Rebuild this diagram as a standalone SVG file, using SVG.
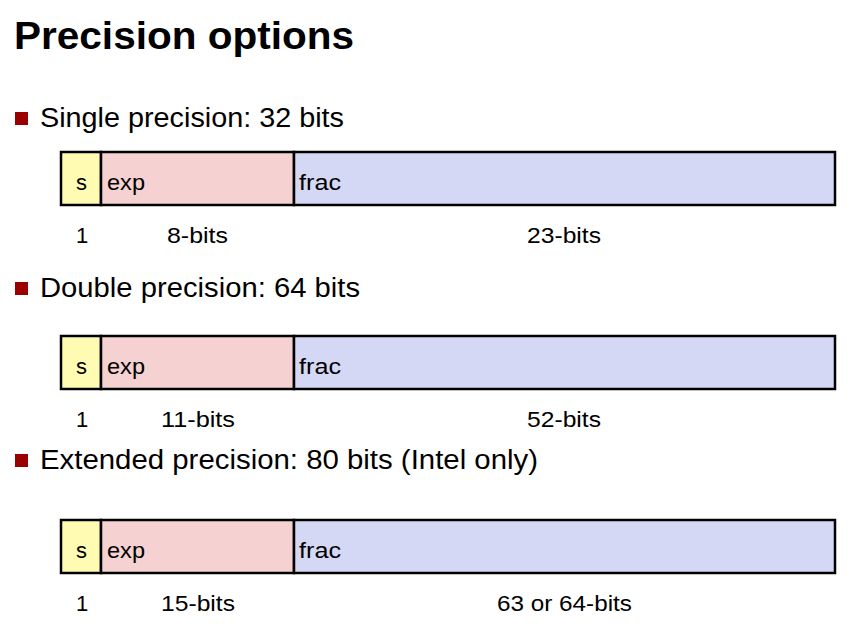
<svg xmlns="http://www.w3.org/2000/svg" width="866" height="629" viewBox="0 0 866 629">
  <style>
    text { font-family: "Liberation Sans", "Noto Sans", sans-serif; fill: #000; }
    .title { font-size: 38px; font-weight: bold; }
    .bullet-text { font-size: 27px; }
    .field { font-size: 22px; }
    .width { font-size: 22px; }
    .bullet { fill: #9b0000; }
    .cell { stroke: #000; stroke-width: 2.5; }
    .s { fill: #fffbb3; }
    .exp { fill: #f5d1d1; }
    .frac { fill: #d5d8f5; }
  </style>

  <rect width="866" height="629" fill="#ffffff"/>

  <text class="title" x="14" y="49" textLength="340" lengthAdjust="spacingAndGlyphs">Precision options</text>

  <!-- Single precision -->
  <g id="single">
    <rect class="bullet" x="15" y="112" width="13" height="13"/>
    <text class="bullet-text" x="40" y="127" textLength="304" lengthAdjust="spacingAndGlyphs">Single precision: 32 bits</text>
    <rect class="cell s" x="61" y="152" width="40" height="53"/>
    <rect class="cell exp" x="101" y="152" width="193" height="53"/>
    <rect class="cell frac" x="294" y="152" width="541" height="53"/>
    <text class="field" x="76" y="190">s</text>
    <text class="field" x="107" y="190" textLength="38" lengthAdjust="spacingAndGlyphs">exp</text>
    <text class="field" x="299" y="190" textLength="42" lengthAdjust="spacingAndGlyphs">frac</text>
    <text class="width" x="76" y="243">1</text>
    <text class="width" x="167" y="243" textLength="61" lengthAdjust="spacingAndGlyphs">8-bits</text>
    <text class="width" x="527" y="243" textLength="74" lengthAdjust="spacingAndGlyphs">23-bits</text>
  </g>

  <!-- Double precision -->
  <g id="double">
    <rect class="bullet" x="15" y="282" width="13" height="13"/>
    <text class="bullet-text" x="40" y="297" textLength="320" lengthAdjust="spacingAndGlyphs">Double precision: 64 bits</text>
    <rect class="cell s" x="61" y="336" width="40" height="53"/>
    <rect class="cell exp" x="101" y="336" width="193" height="53"/>
    <rect class="cell frac" x="294" y="336" width="541" height="53"/>
    <text class="field" x="76" y="374">s</text>
    <text class="field" x="107" y="374" textLength="38" lengthAdjust="spacingAndGlyphs">exp</text>
    <text class="field" x="299" y="374" textLength="42" lengthAdjust="spacingAndGlyphs">frac</text>
    <text class="width" x="76" y="427">1</text>
    <text class="width" x="161" y="427" textLength="74" lengthAdjust="spacingAndGlyphs">11-bits</text>
    <text class="width" x="527" y="427" textLength="74" lengthAdjust="spacingAndGlyphs">52-bits</text>
  </g>

  <!-- Extended precision -->
  <g id="extended">
    <rect class="bullet" x="15" y="454" width="13" height="13"/>
    <text class="bullet-text" x="40" y="469" textLength="498" lengthAdjust="spacingAndGlyphs">Extended precision: 80 bits (Intel only)</text>
    <rect class="cell s" x="61" y="520" width="40" height="53"/>
    <rect class="cell exp" x="101" y="520" width="193" height="53"/>
    <rect class="cell frac" x="294" y="520" width="541" height="53"/>
    <text class="field" x="76" y="558">s</text>
    <text class="field" x="107" y="558" textLength="38" lengthAdjust="spacingAndGlyphs">exp</text>
    <text class="field" x="299" y="558" textLength="42" lengthAdjust="spacingAndGlyphs">frac</text>
    <text class="width" x="76" y="611">1</text>
    <text class="width" x="161" y="611" textLength="74" lengthAdjust="spacingAndGlyphs">15-bits</text>
    <text class="width" x="497" y="611" textLength="135" lengthAdjust="spacingAndGlyphs">63 or 64-bits</text>
  </g>
</svg>
